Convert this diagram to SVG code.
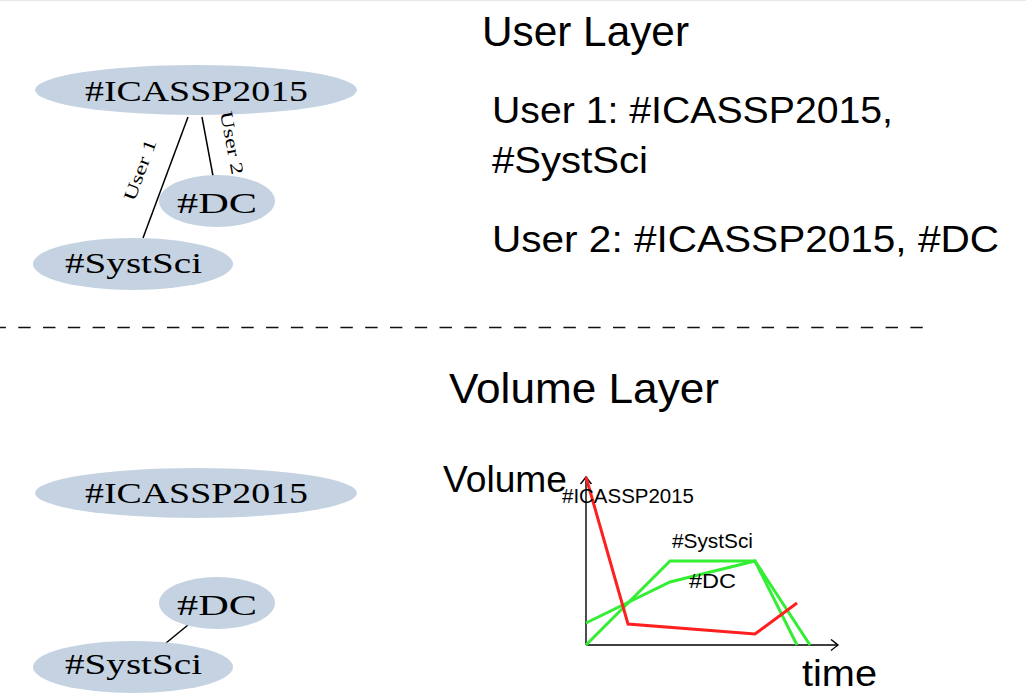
<svg xmlns="http://www.w3.org/2000/svg" width="1026" height="698" viewBox="0 0 1026 698">
<defs>
<style>
.node{fill:#c4d2e2;stroke:none}
.nt{font-family:"Liberation Serif","Times New Roman",serif;font-size:30px;fill:#000;text-anchor:start}
.el{font-family:"Liberation Serif","Times New Roman",serif;font-size:18px;fill:#000;text-anchor:middle}
.edge{stroke:#000;stroke-width:1.5;fill:none}
.sans{font-family:"Liberation Sans",Arial,sans-serif;fill:#000}
.big{font-size:43px}
.body{font-size:37px}
.small{font-size:20px}
.axis{stroke:#000;stroke-width:1.4;fill:none}
.red{stroke:#ff1f1f;stroke-width:3;fill:none;stroke-linejoin:miter}
.green{stroke:#33ee33;stroke-width:3;fill:none;stroke-linejoin:miter}
</style>
<marker id="arr" viewBox="-8 -6 10 12" markerWidth="10" markerHeight="12" refX="0" refY="0" orient="auto" markerUnits="userSpaceOnUse">
<path d="M-7,-5.5 Q-2,-1.5 0,0 Q-2,1.5 -7,5.5" stroke="#000" stroke-width="1.4" fill="none"/>
</marker>
</defs>
<rect width="1026" height="698" fill="#fff"/>
<line x1="0" y1="0.5" x2="1026" y2="0.5" stroke="#e8e8e8" stroke-width="1"/>

<!-- User layer graph -->
<g id="user-edges">
<line class="edge" x1="188" y1="117" x2="143" y2="238"/>
<line class="edge" x1="202" y1="117" x2="213" y2="176"/>
</g>
<g id="u-icassp">
<ellipse class="node" cx="196" cy="90" rx="161" ry="25"/>
<text class="nt" x="85" y="101" textLength="223" lengthAdjust="spacingAndGlyphs">#ICASSP2015</text>
</g>
<g id="u-dc">
<ellipse class="node" cx="217" cy="201" rx="58" ry="26"/>
<text class="nt" x="177" y="213" textLength="80" lengthAdjust="spacingAndGlyphs">#DC</text>
</g>
<g id="u-systsci">
<ellipse class="node" cx="133" cy="264" rx="100" ry="26"/>
<text class="nt" x="65" y="273" textLength="137" lengthAdjust="spacingAndGlyphs">#SystSci</text>
</g>
<g id="user-edge-labels">
<text class="el" transform="translate(145.6,172) rotate(-69.6)" textLength="64" lengthAdjust="spacingAndGlyphs">User 1</text>
<text class="el" transform="translate(226,144) rotate(79.4)" textLength="64" lengthAdjust="spacingAndGlyphs">User 2</text>
</g>

<g id="user-layer-text" class="sans" xml:space="preserve">
<text class="big" x="482" y="46" textLength="207" lengthAdjust="spacingAndGlyphs">User Layer</text>
<text class="body" x="492" y="123" textLength="401" lengthAdjust="spacingAndGlyphs">User 1:  #ICASSP2015,</text>
<text class="body" x="492" y="173" textLength="156" lengthAdjust="spacingAndGlyphs">#SystSci</text>
<text class="body" x="492" y="252" textLength="507" lengthAdjust="spacingAndGlyphs">User 2:  #ICASSP2015, #DC</text>
</g>

<line id="separator" x1="-6.5" y1="327.5" x2="923" y2="327.5" stroke="#111" stroke-width="1.4" stroke-dasharray="12.39 12.39"/>

<!-- Volume layer graph -->
<g id="volume-edges">
<line class="edge" x1="188" y1="625" x2="166" y2="643"/>
</g>
<g id="v-icassp">
<ellipse class="node" cx="196" cy="493" rx="161" ry="25"/>
<text class="nt" x="85" y="503" textLength="223" lengthAdjust="spacingAndGlyphs">#ICASSP2015</text>
</g>
<g id="v-dc">
<ellipse class="node" cx="217" cy="603" rx="58" ry="26"/>
<text class="nt" x="177" y="615" textLength="80" lengthAdjust="spacingAndGlyphs">#DC</text>
</g>
<g id="v-systsci">
<ellipse class="node" cx="133" cy="667" rx="100" ry="26"/>
<text class="nt" x="65" y="674" textLength="137" lengthAdjust="spacingAndGlyphs">#SystSci</text>
</g>

<g id="volume-layer-text" class="sans">
<text class="big" x="449" y="403" textLength="270" lengthAdjust="spacingAndGlyphs">Volume Layer</text>
</g>

<!-- chart -->
<g id="chart">
<line class="axis" x1="586" y1="645" x2="586" y2="477" marker-end="url(#arr)"/>
<line class="axis" x1="586" y1="645" x2="838" y2="645" marker-end="url(#arr)"/>
<polyline class="green" points="586,645 670,561 755,561 797,645"/>
<polyline class="green" points="586,623 670,582 755,561 810,645"/>
<polyline class="red" points="586,477 628,624 755,634 797,603"/>
<g class="sans">
<text x="443" y="492" font-size="36" textLength="124" lengthAdjust="spacingAndGlyphs">Volume</text>
<text x="802" y="686" font-size="37" textLength="75" lengthAdjust="spacingAndGlyphs">time</text>
<text class="small" x="562" y="503" textLength="132" lengthAdjust="spacingAndGlyphs">#ICASSP2015</text>
<text class="small" x="672" y="548" textLength="81" lengthAdjust="spacingAndGlyphs">#SystSci</text>
<text class="small" x="689" y="588" textLength="47" lengthAdjust="spacingAndGlyphs">#DC</text>
</g>
</g>
</svg>
